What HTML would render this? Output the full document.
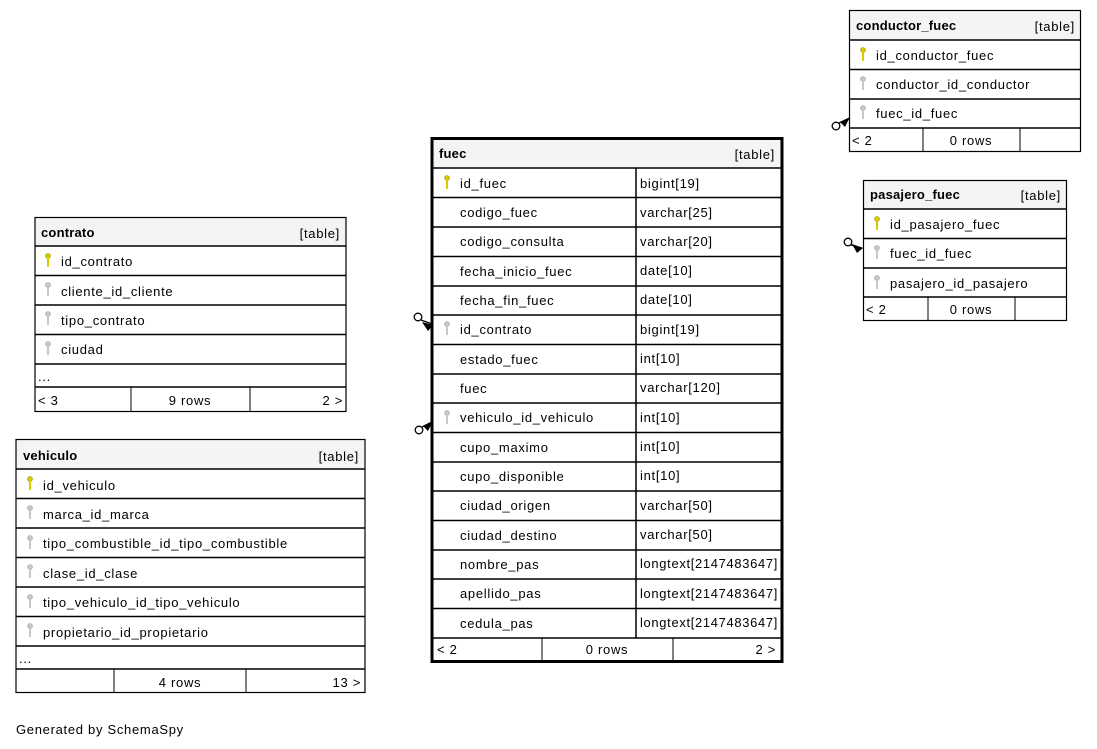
<!DOCTYPE html>
<html><head><meta charset="utf-8"><style>
html,body{margin:0;padding:0;background:#fff;}
svg{display:block;}
text{font-family:"Liberation Sans",sans-serif;font-size:13px;fill:#000;letter-spacing:0.7px;}
.b{font-weight:bold;letter-spacing:0.2px;}
.hd{fill:#f4f4f4;}
</style></head><body>
<svg width="1097" height="749" viewBox="0 0 1097 749" xmlns="http://www.w3.org/2000/svg">
<defs>
<g id="ky"><circle cx="0" cy="0" r="2.4" fill="#d8cc00" stroke="#b0a000" stroke-width="0.8"/><rect x="-1" y="2" width="2" height="9" fill="#d8cc00"/></g>
<g id="kg"><circle cx="0" cy="0" r="2.4" fill="#c8c8c8" stroke="#aaa" stroke-width="0.8"/><rect x="-1" y="2" width="2" height="9" fill="#c8c8c8"/></g>
</defs>

<!-- contrato -->
<g>
<rect x="35" y="218" width="311" height="28" class="hd"/>
<rect x="35" y="217.5" width="311" height="194" fill="none" stroke="#000" stroke-width="1.2"/>
<text x="41" y="237" class="b">contrato</text><text x="340" y="238" text-anchor="end">[table]</text>
<g stroke="#000" stroke-width="1.5">
<line x1="35" y1="246" x2="346" y2="246"/><line x1="35" y1="275.5" x2="346" y2="275.5"/><line x1="35" y1="305" x2="346" y2="305"/><line x1="35" y1="334.5" x2="346" y2="334.5"/><line x1="35" y1="364" x2="346" y2="364"/><line x1="35" y1="387" x2="346" y2="387"/>
<line x1="131" y1="387" x2="131" y2="412" stroke-width="1"/><line x1="250" y1="387" x2="250" y2="412" stroke-width="1"/>
</g>
<use href="#ky" x="48" y="256"/><text x="61" y="266">id_contrato</text>
<use href="#kg" x="48" y="285"/><text x="61" y="296">cliente_id_cliente</text>
<use href="#kg" x="48" y="314"/><text x="61" y="325">tipo_contrato</text>
<use href="#kg" x="48" y="344"/><text x="61" y="354">ciudad</text>
<text x="38" y="381">...</text>
<text x="38" y="405">&lt; 3</text><text x="190" y="405" text-anchor="middle">9 rows</text><text x="343" y="405" text-anchor="end">2 &gt;</text>
</g>

<!-- vehiculo -->
<g>
<rect x="16" y="440" width="349" height="29" class="hd"/>
<rect x="16" y="439.5" width="349" height="253" fill="none" stroke="#000" stroke-width="1.2"/>
<text x="23" y="460" class="b">vehiculo</text><text x="359" y="461" text-anchor="end">[table]</text>
<g stroke="#000" stroke-width="1.5">
<line x1="16" y1="469" x2="365" y2="469"/><line x1="16" y1="498.5" x2="365" y2="498.5"/><line x1="16" y1="528" x2="365" y2="528"/><line x1="16" y1="557.5" x2="365" y2="557.5"/><line x1="16" y1="587" x2="365" y2="587"/><line x1="16" y1="616.5" x2="365" y2="616.5"/><line x1="16" y1="646" x2="365" y2="646"/><line x1="16" y1="669" x2="365" y2="669"/>
<line x1="114" y1="669" x2="114" y2="693" stroke-width="1"/><line x1="246" y1="669" x2="246" y2="693" stroke-width="1"/>
</g>
<use href="#ky" x="30" y="479"/><text x="43" y="490">id_vehiculo</text>
<use href="#kg" x="30" y="508"/><text x="43" y="519">marca_id_marca</text>
<use href="#kg" x="30" y="538"/><text x="43" y="548">tipo_combustible_id_tipo_combustible</text>
<use href="#kg" x="30" y="567"/><text x="43" y="578">clase_id_clase</text>
<use href="#kg" x="30" y="597"/><text x="43" y="607">tipo_vehiculo_id_tipo_vehiculo</text>
<use href="#kg" x="30" y="626"/><text x="43" y="637">propietario_id_propietario</text>
<text x="19" y="663">...</text>
<text x="180" y="687" text-anchor="middle">4 rows</text><text x="361" y="687" text-anchor="end">13 &gt;</text>
</g>

<!-- fuec -->
<g>
<rect x="432" y="139" width="350" height="29" class="hd"/>
<rect x="432" y="138.5" width="350" height="523" fill="none" stroke="#000" stroke-width="3"/>
<text x="439" y="158" class="b">fuec</text><text x="775" y="159" text-anchor="end">[table]</text>
<g stroke="#000" stroke-width="1.5">
<line x1="432" y1="168" x2="782" y2="168"/><line x1="432" y1="197.5" x2="782" y2="197.5"/><line x1="432" y1="227" x2="782" y2="227"/><line x1="432" y1="256.5" x2="782" y2="256.5"/><line x1="432" y1="286" x2="782" y2="286"/><line x1="432" y1="315" x2="782" y2="315"/><line x1="432" y1="344.5" x2="782" y2="344.5"/><line x1="432" y1="374" x2="782" y2="374"/><line x1="432" y1="403" x2="782" y2="403"/><line x1="432" y1="432.5" x2="782" y2="432.5"/><line x1="432" y1="462" x2="782" y2="462"/><line x1="432" y1="491" x2="782" y2="491"/><line x1="432" y1="520.5" x2="782" y2="520.5"/><line x1="432" y1="550" x2="782" y2="550"/><line x1="432" y1="579" x2="782" y2="579"/><line x1="432" y1="608.5" x2="782" y2="608.5"/><line x1="432" y1="638" x2="782" y2="638"/>
<line x1="636" y1="168" x2="636" y2="638"/>
<line x1="542" y1="638" x2="542" y2="662" stroke-width="1"/><line x1="673" y1="638" x2="673" y2="662" stroke-width="1"/>
</g>
<use href="#ky" x="447" y="178"/><text x="460" y="188">id_fuec</text><text x="640" y="188">bigint[19]</text>
<text x="460" y="217">codigo_fuec</text><text x="640" y="217">varchar[25]</text>
<text x="460" y="246">codigo_consulta</text><text x="640" y="246">varchar[20]</text>
<text x="460" y="276">fecha_inicio_fuec</text><text x="640" y="275">date[10]</text>
<text x="460" y="305">fecha_fin_fuec</text><text x="640" y="304">date[10]</text>
<use href="#kg" x="447" y="324"/><text x="460" y="334">id_contrato</text><text x="640" y="334">bigint[19]</text>
<text x="460" y="364">estado_fuec</text><text x="640" y="363">int[10]</text>
<text x="460" y="393">fuec</text><text x="640" y="392">varchar[120]</text>
<use href="#kg" x="447" y="413"/><text x="460" y="422">vehiculo_id_vehiculo</text><text x="640" y="422">int[10]</text>
<text x="460" y="452">cupo_maximo</text><text x="640" y="451">int[10]</text>
<text x="460" y="481">cupo_disponible</text><text x="640" y="480">int[10]</text>
<text x="460" y="510">ciudad_origen</text><text x="640" y="510">varchar[50]</text>
<text x="460" y="540">ciudad_destino</text><text x="640" y="539">varchar[50]</text>
<text x="460" y="569">nombre_pas</text><text x="640" y="568" textLength="138" lengthAdjust="spacingAndGlyphs">longtext[2147483647]</text>
<text x="460" y="598">apellido_pas</text><text x="640" y="598" textLength="138" lengthAdjust="spacingAndGlyphs">longtext[2147483647]</text>
<text x="460" y="628">cedula_pas</text><text x="640" y="627" textLength="138" lengthAdjust="spacingAndGlyphs">longtext[2147483647]</text>
<text x="437" y="654">&lt; 2</text><text x="607" y="654" text-anchor="middle">0 rows</text><text x="776" y="654" text-anchor="end">2 &gt;</text>
</g>

<!-- conductor_fuec -->
<g>
<rect x="850" y="11" width="231" height="29" class="hd"/>
<rect x="849.5" y="10.5" width="231" height="141" fill="none" stroke="#000" stroke-width="1.2"/>
<text x="856" y="30" class="b">conductor_fuec</text><text x="1075" y="31" text-anchor="end">[table]</text>
<g stroke="#000" stroke-width="1.5">
<line x1="850" y1="40" x2="1081" y2="40"/><line x1="850" y1="69.5" x2="1081" y2="69.5"/><line x1="850" y1="99" x2="1081" y2="99"/><line x1="850" y1="128" x2="1081" y2="128"/>
<line x1="923" y1="128" x2="923" y2="152" stroke-width="1"/><line x1="1020" y1="128" x2="1020" y2="152" stroke-width="1"/>
</g>
<use href="#ky" x="863" y="50"/><text x="876" y="60">id_conductor_fuec</text>
<use href="#kg" x="863" y="79"/><text x="876" y="89">conductor_id_conductor</text>
<use href="#kg" x="863" y="108"/><text x="876" y="118">fuec_id_fuec</text>
<text x="852" y="145">&lt; 2</text><text x="971" y="145" text-anchor="middle">0 rows</text>
</g>

<!-- pasajero_fuec -->
<g>
<rect x="864" y="181" width="203" height="28" class="hd"/>
<rect x="863.5" y="180.5" width="203" height="140" fill="none" stroke="#000" stroke-width="1.2"/>
<text x="870" y="199" class="b">pasajero_fuec</text><text x="1061" y="200" text-anchor="end">[table]</text>
<g stroke="#000" stroke-width="1.5">
<line x1="864" y1="209" x2="1067" y2="209"/><line x1="864" y1="238.5" x2="1067" y2="238.5"/><line x1="864" y1="268" x2="1067" y2="268"/><line x1="864" y1="297" x2="1067" y2="297"/>
<line x1="928" y1="297" x2="928" y2="321" stroke-width="1"/><line x1="1015" y1="297" x2="1015" y2="321" stroke-width="1"/>
</g>
<use href="#ky" x="877" y="219"/><text x="890" y="229">id_pasajero_fuec</text>
<use href="#kg" x="877" y="248"/><text x="890" y="258">fuec_id_fuec</text>
<use href="#kg" x="877" y="278"/><text x="890" y="288">pasajero_id_pasajero</text>
<text x="866" y="314">&lt; 2</text><text x="971" y="314" text-anchor="middle">0 rows</text>
</g>

<!-- connector ends -->
<g stroke="#000" stroke-width="1.3" fill="none">
<circle cx="418" cy="317" r="3.8"/><line x1="421" y1="320" x2="432" y2="324"/>
<circle cx="419" cy="430" r="3.8"/><line x1="422" y1="427" x2="432" y2="422"/>
<circle cx="836" cy="126" r="3.8"/><line x1="839" y1="123" x2="850" y2="118"/>
<circle cx="848" cy="242" r="3.8"/><line x1="851" y1="245" x2="862" y2="248"/>
</g>
<g fill="#000">
<polygon points="422,322 433,325 428,331"/>
<polygon points="423,426 433,421 428,431"/>
<polygon points="840,122 850,117 845,127"/>
<polygon points="852,244 863,248 857,253"/>
</g>

<text x="16" y="734">Generated by SchemaSpy</text>
</svg>
</body></html>
